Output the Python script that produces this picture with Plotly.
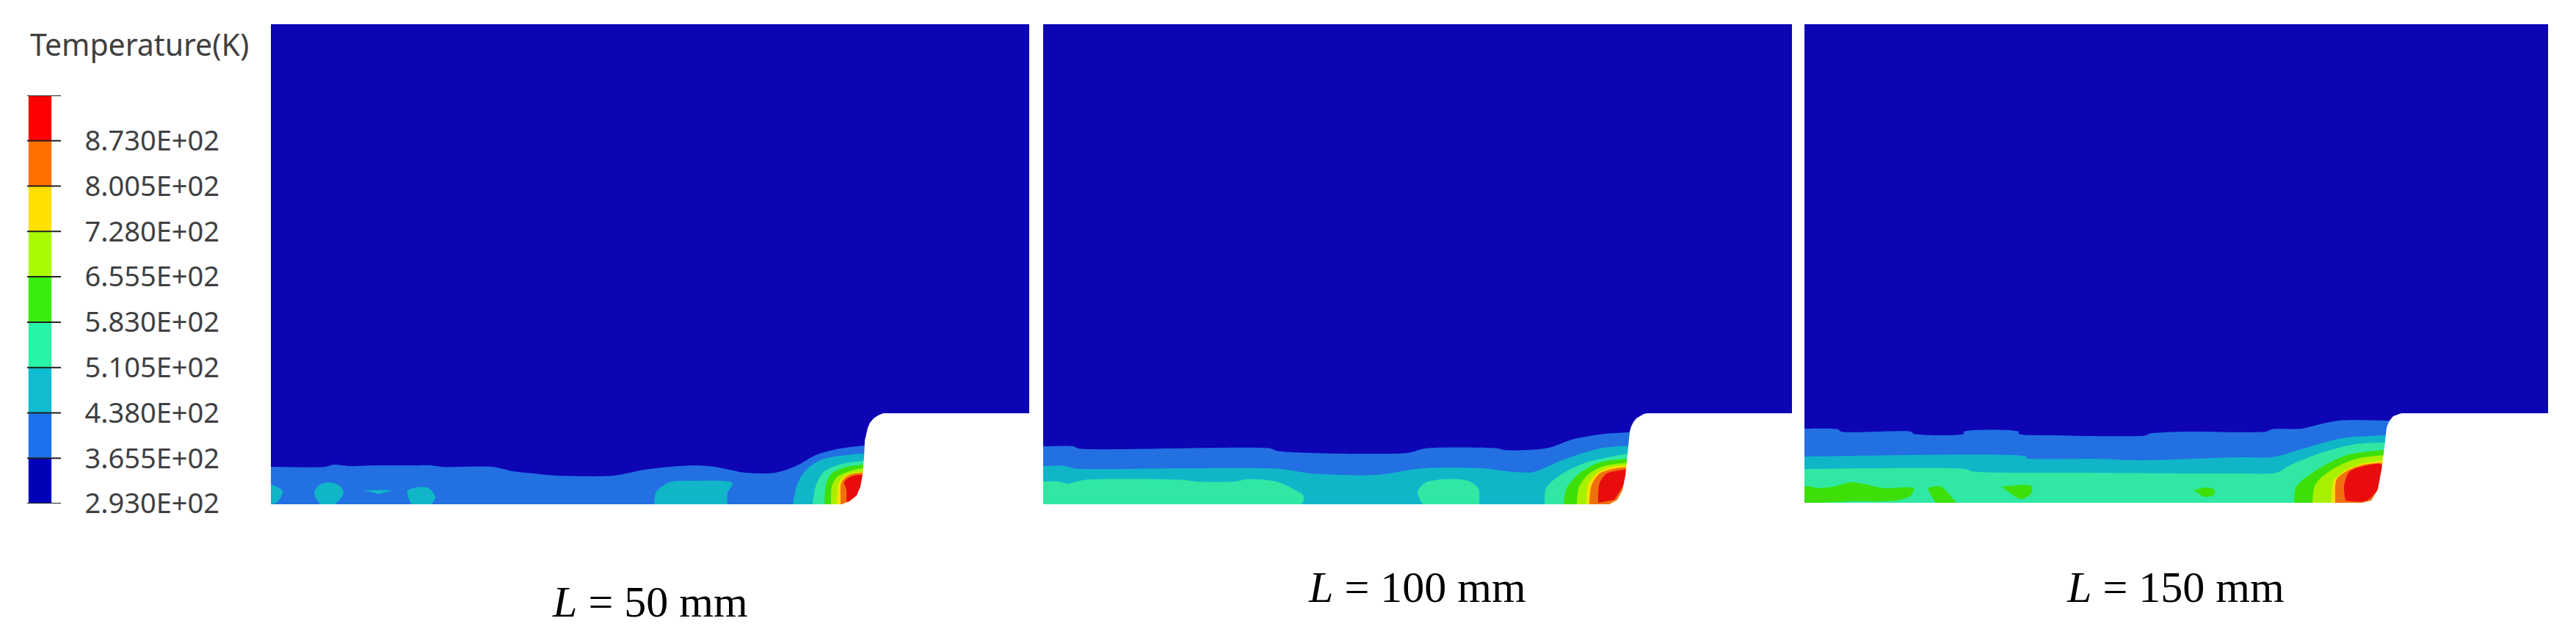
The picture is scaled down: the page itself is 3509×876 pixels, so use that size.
import plotly.graph_objects as go

FIG_W, FIG_H = 3509, 876

# Colour scale
levels = [293.0, 365.5, 438.0, 510.5, 583.0, 655.5, 728.0, 800.5, 873.0, 945.5]
tick_levels = [293.0, 365.5, 438.0, 510.5, 583.0, 655.5, 728.0, 800.5, 873.0]
tick_labels = ["2.930E+02", "3.655E+02", "4.380E+02", "5.105E+02", "5.830E+02",
               "6.555E+02", "7.280E+02", "8.005E+02", "8.730E+02"]
bar_colors = ["#0000B8", "#1C72EC", "#10BCD0", "#28F4A8", "#38EE10", "#A8FA00", "#FFE000", "#FF7000", "#FF0000"]
band_colors = ["#0D04B4", "#2270E2", "#10B6C8", "#30E8A4", "#3EDF08", "#A8F000", "#FCE000", "#F07010", "#E80C0C"]

# Panel 1 (L = 50 mm): distance from left edge x, height above base h
p1_width, p1_height, p1_ledge = 1033, 654, 124
p1_b1_x = [0, 74, 85, 109, 143, 198, 219, 233, 302, 330, 357, 391, 467, 508, 543, 577, 605, 646, 687, 715, 742, 770, 808]
p1_b1_h = [51, 51, 54, 52, 53, 53, 53, 51, 51, 45, 42, 39, 39, 47, 51, 53, 51, 43, 43, 52, 67, 75, 80]
p1_b2_x = [711, 718, 731, 754, 806]
p1_b2_h = [0, 30, 49, 62, 69]
p1_b3_x = [738, 743, 753, 774, 806]
p1_b3_h = [0, 27, 44, 54, 59]
p1_b4_x = [754, 756, 764, 781, 806]
p1_b4_h = [0, 27, 42, 50, 54]
p1_b5_x = [763, 764, 771, 788, 806]
p1_b5_h = [0, 24, 37, 45, 49]
p1_b6_x = [771, 773, 779, 791, 806]
p1_b6_h = [0, 27, 37, 42, 44]
p1_b7_x = [776, 777, 783, 791, 806]
p1_b7_h = [0, 29, 37, 41, 43]
p1_red_x = [784, 784, 781, 789, 806, 806, 792]
p1_red_h = [4, 20, 30, 37, 39, 4, 2]
p1_teal_patches = [
    ([0, 16, 9, 0], [27, 18, 3, 0]),
    ([67, 59, 64, 78, 94, 99, 88], [0, 15, 25, 30, 25, 15, 0]),
    ([126, 164, 147], [19, 19, 14]),
    ([191, 186, 198, 215, 224, 219], [0, 18, 23, 22, 10, 0]),
    ([522, 525, 543, 577, 629, 622, 622], [0, 17, 30, 32, 29, 15, 0]),
]
p1_wall_x = [778, 788, 798, 803, 806, 808, 809, 811, 813, 816, 821, 827, 834]
p1_wall_h = [0, 4, 12, 24, 40, 64, 87, 96, 104, 111, 117, 121, 124]

# Panel 2 (L = 100 mm)
p2_width, p2_height, p2_ledge = 1020, 654, 124
p2_b1_x = [0, 41, 48, 310, 317, 362, 496, 520, 620, 627, 661, 689, 723, 765, 799]
p2_b1_h = [79, 79, 76, 76, 73, 70, 70, 76, 76, 74, 74, 77, 89, 96, 98]
p2_b2_x = [0, 31, 41, 200, 324, 365, 455, 517, 599, 641, 668, 709, 758, 799]
p2_b2_h = [52, 52, 49, 49, 48, 42, 40, 49, 49, 44, 44, 61, 76, 80]
p2_b3_x = [683, 685, 703, 737, 799]
p2_b3_h = [0, 22, 39, 56, 69]
p2_b4_x = [709, 713, 730, 758, 799]
p2_b4_h = [0, 22, 42, 57, 62]
p2_b5_x = [727, 730, 744, 764, 799]
p2_b5_h = [0, 24, 42, 52, 57]
p2_b6_x = [740, 742, 754, 771, 799]
p2_b6_h = [0, 26, 42, 50, 53]
p2_b7_x = [744, 747, 758, 775, 799]
p2_b7_h = [0, 26, 42, 48, 51]
p2_red_x = [756, 758, 768, 785, 799, 792, 778]
p2_red_h = [2, 29, 42, 46, 47, 29, 6]
p2_mint_patches = [
    ([0, 21, 34, 55, 193, 207, 262, 276, 317, 344, 355, 351, 0],
     [31, 31, 28, 33, 33, 31, 31, 34, 31, 19, 11, 0, 0]),
    ([517, 510, 520, 544, 579, 593, 594], [0, 17, 29, 34, 32, 21, 0]),
]
p2_wall_x = [771, 782, 789, 793, 796, 799, 801, 804, 808, 813, 818, 823]
p2_wall_h = [0, 6, 19, 39, 68, 99, 106, 112, 117, 120, 123, 124]

# Panel 3 (L = 150 mm)
p3_width, p3_height, p3_ledge = 1013, 652, 122
p3_b1_x = [0, 46, 50, 145, 149, 217, 217, 292, 292, 336, 466, 469, 520, 629, 636, 677, 694, 728, 793]
p3_b1_h = [101, 100, 97, 97, 94, 94, 97, 97, 94, 92, 92, 94, 97, 97, 100, 101, 105, 112, 112]
p3_b2_x = [0, 302, 302, 397, 459, 595, 636, 677, 732, 793]
p3_b2_h = [63, 63, 61, 60, 58, 62, 62, 73, 88, 92]
p3_b3_x = [0, 220, 227, 377, 588, 643, 663, 704, 751, 793]
p3_b3_h = [46, 46, 43, 41, 40, 41, 52, 68, 80, 82]
p3_b4_x = [667, 670, 698, 739, 793]
p3_b4_h = [0, 22, 45, 65, 72]
p3_b5_x = [692, 696, 718, 752, 793]
p3_b5_h = [0, 25, 45, 60, 65]
p3_b6_x = [718, 721, 738, 759, 793]
p3_b6_h = [0, 30, 45, 53, 58]
p3_b7_x = [723, 725, 742, 762, 793]
p3_b7_h = [0, 32, 45, 52, 55]
p3_red_x = [737, 735, 742, 762, 786, 783, 766, 745]
p3_red_h = [3, 22, 42, 50, 52, 22, 3, 2]
p3_green_patches = [
    ([0, 0, 22, 43, 63, 84, 108, 149, 145, 125, 63, 22], [0, 22, 20, 23, 28, 25, 20, 20, 10, 3, 2, 0]),
    ([179, 169, 186, 196, 207], [0, 20, 22, 13, 0]),
    ([268, 309, 309, 295, 282], [22, 23, 13, 5, 12]),
    ([530, 547, 559, 557, 544], [17, 21, 17, 10, 8]),
]
p3_wall_x = [759, 772, 781, 786, 790, 793, 795, 798, 802, 807, 813]
p3_wall_h = [0, 3, 18, 45, 75, 102, 108, 113, 118, 120, 122]

captions = ["50 mm", "100 mm", "150 mm"]

fig = go.Figure()


def poly(x, y, color, n, shape="spline"):
    fig.add_trace(go.Scatter(x=x, y=y, mode="lines", fill="toself", fillcolor=color,
                             line=dict(width=0, shape=shape, smoothing=0.8), hoverinfo="skip", showlegend=False,
                             xaxis=f"x{n}", yaxis=f"y{n}"))


def band(x, h, color, n):
    # region under a contour; it closes just behind the wall and below the base, where nothing shows
    far = x[-1] + 15
    if h[0] == 0:
        xs, ys = [x[0]], [-30]
    else:
        xs, ys = [-30, -30], [-30, h[0]]
    poly(xs + list(x) + [far, far], ys + list(h) + [h[-1], -30], color, n)


def panel(n, width, height, ledge, px_left, px_bottom, curves, red, patches, patch_band, patch_after, wall):
    poly([0, width, width, 0], [0, 0, height, height], band_colors[0], n, "linear")
    for idx, cx, ch in curves:
        band(cx, ch, band_colors[idx], n)
        if idx == patch_after:
            for px, ph in patches:
                poly(px, ph, band_colors[patch_band], n)
    poly(red[0], red[1], band_colors[8], n)
    wx, wh = wall
    poly(list(wx) + [width, width], list(wh) + [ledge, 0], "#FFFFFF", n, "linear")
    suffix = "" if n == 1 else str(n)
    fig.layout["xaxis" + suffix] = dict(domain=[px_left / FIG_W, (px_left + width) / FIG_W],
                                        range=[0, width], visible=False, anchor="y" + suffix)
    fig.layout["yaxis" + suffix] = dict(domain=[(FIG_H - px_bottom) / FIG_H, (FIG_H - px_bottom + height) / FIG_H],
                                        range=[0, height], visible=False, anchor="x" + suffix)


panel(1, p1_width, p1_height, p1_ledge, 369, 687,
      [(1, p1_b1_x, p1_b1_h), (2, p1_b2_x, p1_b2_h), (3, p1_b3_x, p1_b3_h), (4, p1_b4_x, p1_b4_h),
       (5, p1_b5_x, p1_b5_h), (6, p1_b6_x, p1_b6_h), (7, p1_b7_x, p1_b7_h)],
      (p1_red_x, p1_red_h), p1_teal_patches, 2, 1, (p1_wall_x, p1_wall_h))

panel(2, p2_width, p2_height, p2_ledge, 1421, 687,
      [(1, p2_b1_x, p2_b1_h), (2, p2_b2_x, p2_b2_h), (3, p2_b3_x, p2_b3_h), (4, p2_b4_x, p2_b4_h),
       (5, p2_b5_x, p2_b5_h), (6, p2_b6_x, p2_b6_h), (7, p2_b7_x, p2_b7_h)],
      (p2_red_x, p2_red_h), p2_mint_patches, 3, 2, (p2_wall_x, p2_wall_h))

panel(3, p3_width, p3_height, p3_ledge, 2458, 685,
      [(1, p3_b1_x, p3_b1_h), (2, p3_b2_x, p3_b2_h), (3, p3_b3_x, p3_b3_h), (4, p3_b4_x, p3_b4_h),
       (5, p3_b5_x, p3_b5_h), (6, p3_b6_x, p3_b6_h), (7, p3_b7_x, p3_b7_h)],
      (p3_red_x, p3_red_h), p3_green_patches, 4, 3, (p3_wall_x, p3_wall_h))

# Colour bar on its own axes, x4/y4
for lo, hi, col in zip(levels[:-1], levels[1:], bar_colors):
    fig.add_trace(go.Bar(x=[0.38], y=[hi - lo], base=[lo], width=[0.68], marker=dict(color=col, line=dict(width=0)),
                         hoverinfo="skip", showlegend=False, xaxis="x4", yaxis="y4"))
for lv in levels:
    fig.add_trace(go.Scatter(x=[0, 1], y=[lv, lv], mode="lines", line=dict(color="#202020", width=2),
                             hoverinfo="skip", showlegend=False, xaxis="x4", yaxis="y4", cliponaxis=False))

fig.layout.xaxis4 = dict(domain=[37 / FIG_W, 83 / FIG_W], range=[0, 1], visible=False, anchor="y4")
fig.layout.yaxis4 = dict(domain=[(FIG_H - 686) / FIG_H, (FIG_H - 130) / FIG_H], range=[levels[0], levels[-1]],
                         side="right", anchor="x4", tickmode="array", tickvals=tick_levels, ticktext=tick_labels,
                         ticks="outside", ticklen=24, tickcolor="rgba(0,0,0,0)", showline=False, showgrid=False,
                         zeroline=False, automargin=False, tickfont=dict(family="Noto Sans", size=38, color="#404040"))

SERIF = "Liberation Serif"
fig.add_annotation(text="Temperature(K)", xref="paper", yref="paper", x=39 / FIG_W, y=(FIG_H - 60) / FIG_H,
                   xanchor="left", yanchor="middle", showarrow=False,
                   font=dict(family="Noto Sans", size=41, color="#404040"))
cap_pos = [(885, 820), (1930, 800), (2963, 800)]
for (cx, cy), cap in zip(cap_pos, captions):
    fig.add_annotation(text=f"<i>L</i> = {cap}", xref="paper", yref="paper", x=cx / FIG_W, y=(FIG_H - cy) / FIG_H,
                       xanchor="center", yanchor="middle", showarrow=False,
                       font=dict(family=SERIF, size=60, color="#000000"))

fig.update_layout(width=FIG_W, height=FIG_H, margin=dict(l=0, r=0, t=0, b=0, pad=0, autoexpand=False),
                  paper_bgcolor="white", plot_bgcolor="white", showlegend=False, barmode="overlay")
fig.write_html("out.html", config=dict(displayModeBar=False),
               post_script="document.body.style.margin='0';document.body.style.overflow='hidden';")
